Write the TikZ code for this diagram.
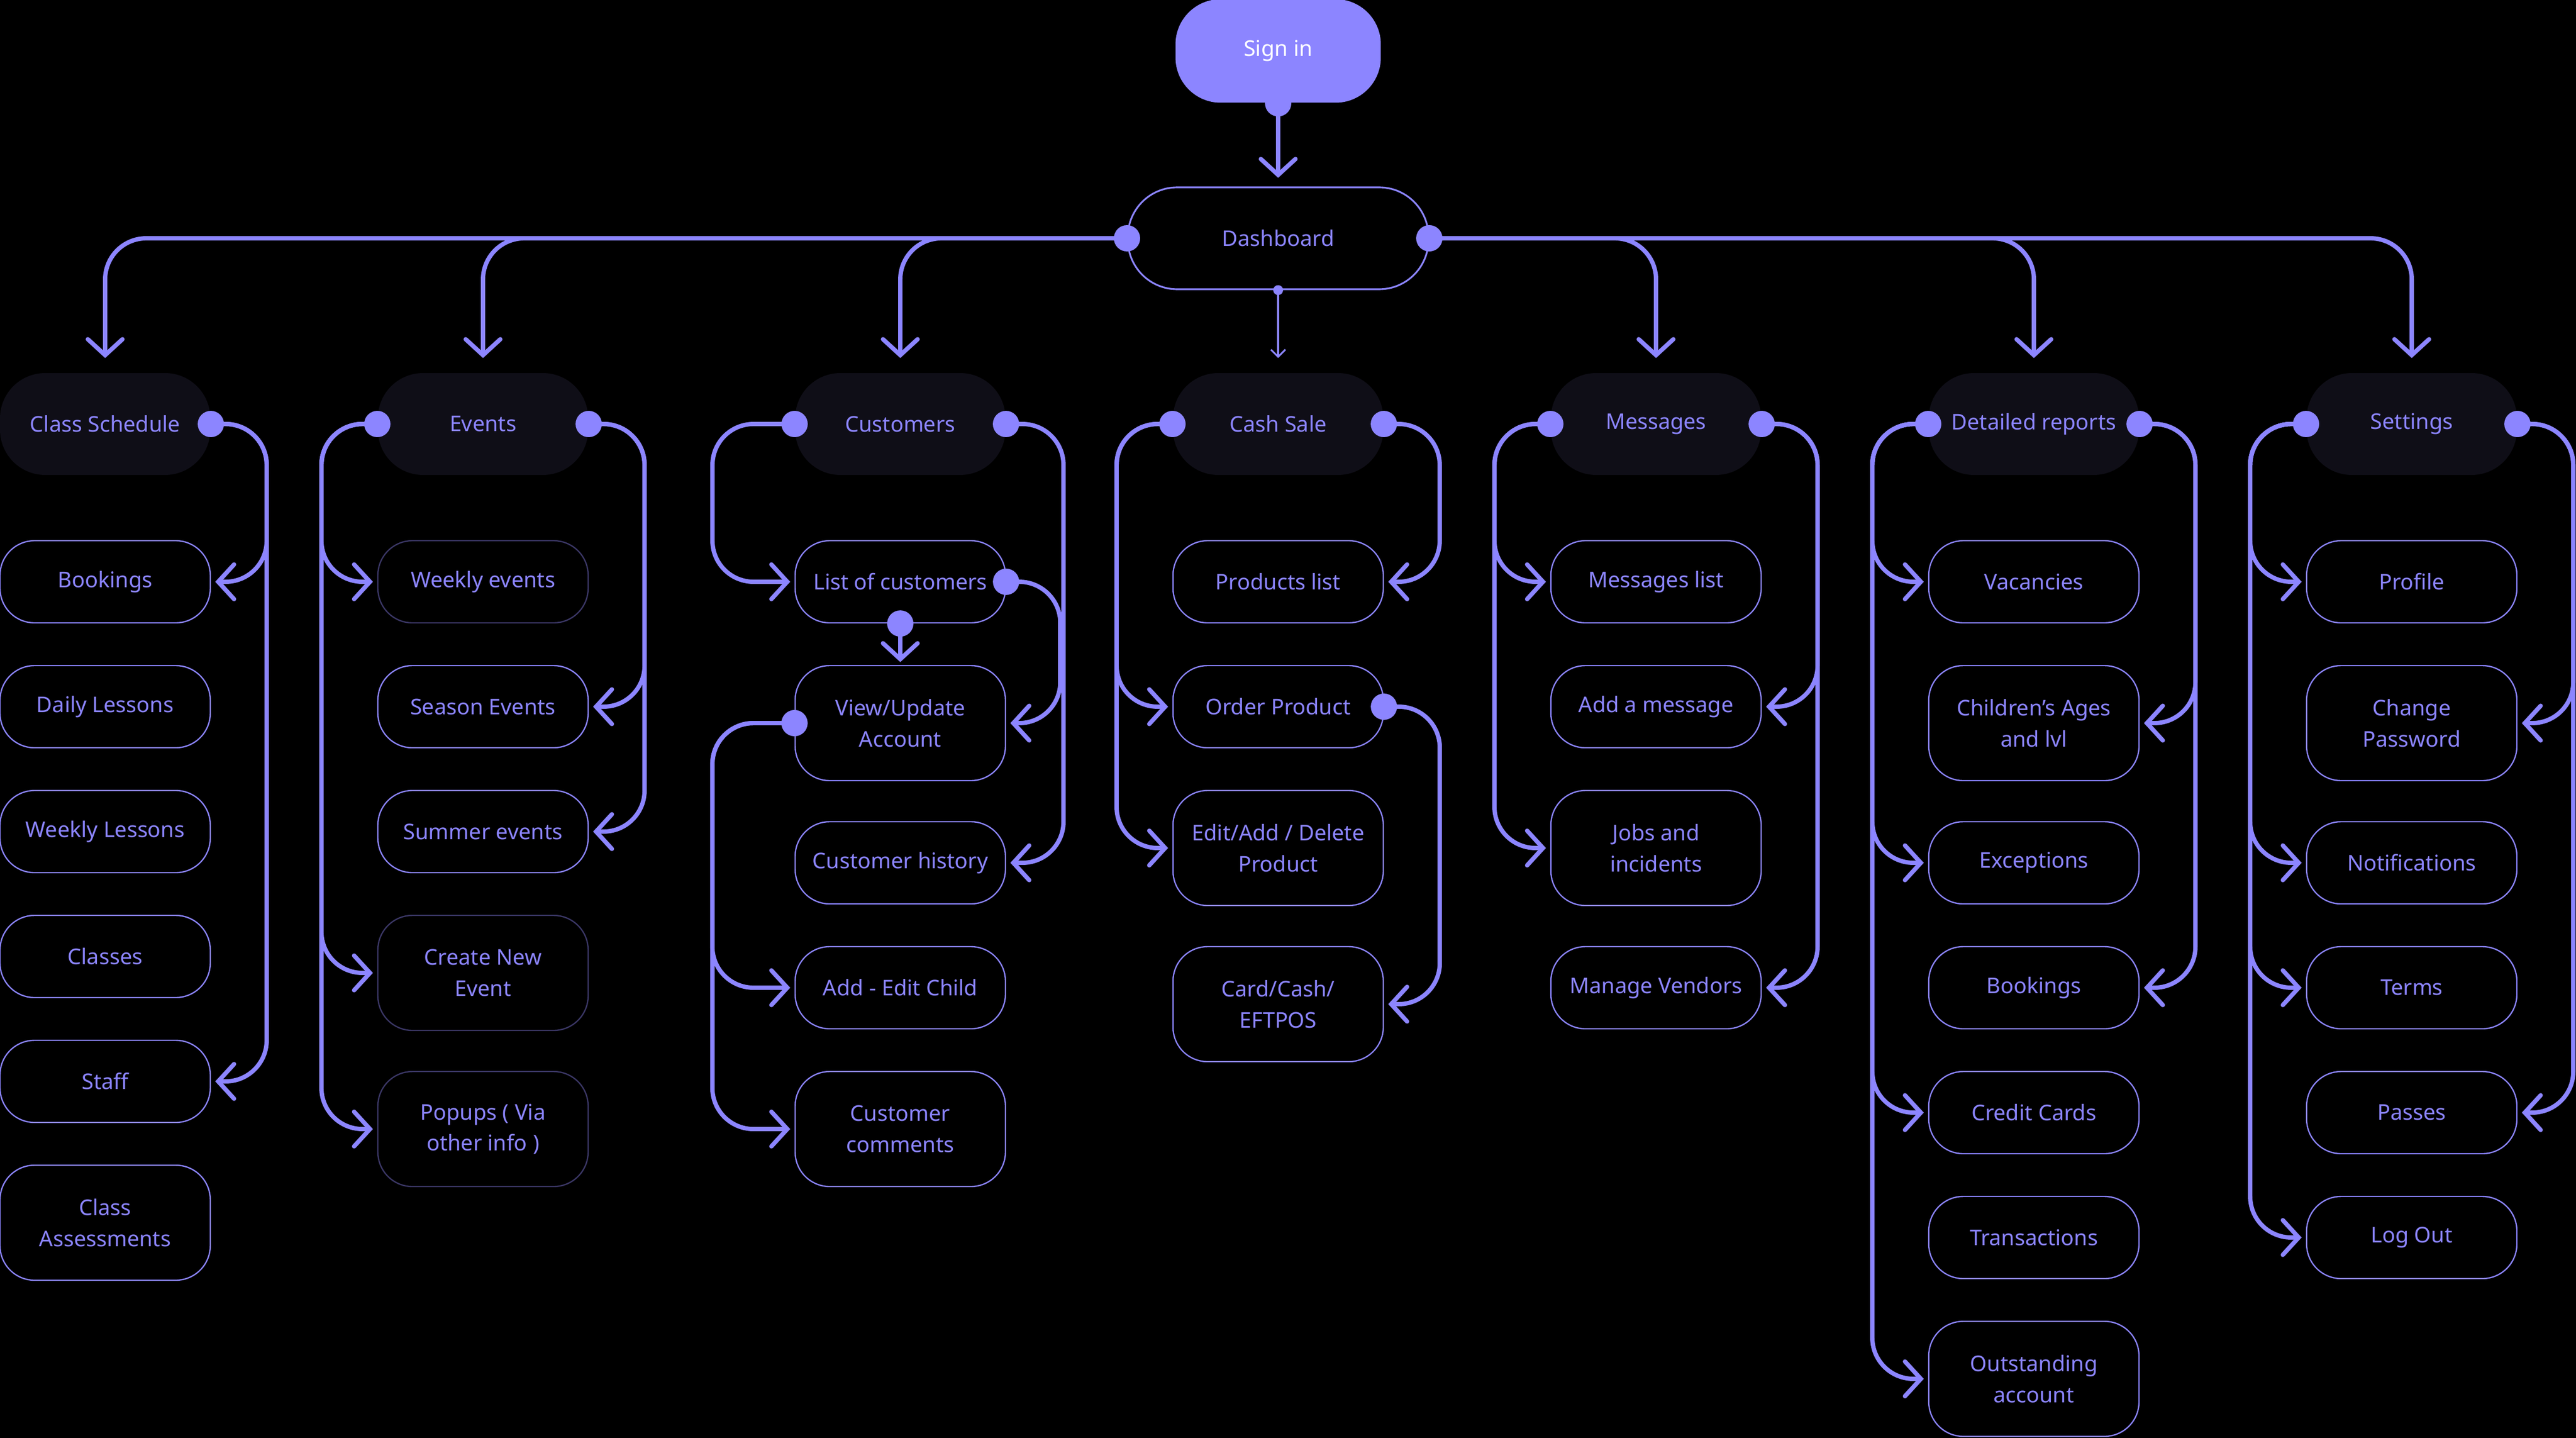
\documentclass[tikz,border=0pt]{standalone}
\usepackage{fontspec}
\setmainfont{Noto Sans}
\usetikzlibrary{arrows.meta}
\definecolor{pur}{HTML}{8C85FF}
\definecolor{hdrfill}{HTML}{0F0E17}
\definecolor{dim}{HTML}{3B3766}
\begin{document}
\begin{tikzpicture}[x=0.02cm,y=-0.02cm,
  every node/.style={font=\fontsize{7.5}{10.8}\selectfont, text=pur, align=center, inner sep=0pt},
  hdr/.style={fill=hdrfill, rounded corners=0.55cm, minimum width=2.56cm, minimum height=1.24cm},
  ch/.style={draw=pur, line width=0.45pt, rounded corners=0.42cm, minimum width=2.56cm, minimum height=1.0cm},
  ch2/.style={ch, minimum height=1.4cm},
  dimd/.style={draw=dim},
  conn/.style={draw=pur, line width=1.5pt, rounded corners=0.5cm, -{Straight Barb[length=5.5pt,width=12pt,line cap=round]}, shorten >=1.5pt},
  dot/.style={fill=pur}
]
\fill[black] (0,0) rectangle (1568,875);
\useasboundingbox (0,0) rectangle (1568,875);

% top
\node[fill=pur, rounded corners=0.55cm, minimum width=2.5cm, minimum height=1.26cm, text=white] (si) at (778,31) {Sign in};
\node[draw=pur, line width=0.6pt, rounded corners=0.6cm, minimum width=3.66cm, minimum height=1.24cm] (dash) at (778,145) {Dashboard};

% headers
\node[hdr] (cs) at (64,258) {Class Schedule};
\node[hdr] (ev) at (294,258) {Events};
\node[hdr] (cu) at (548,258) {Customers};
\node[hdr] (ca) at (778,258) {Cash Sale};
\node[hdr] (me) at (1008,258) {Messages};
\node[hdr] (dr) at (1238,258) {Detailed reports};
\node[hdr] (se) at (1468,258) {Settings};

% class schedule
\node[ch] (c1) at (64,354) {Bookings};
\node[ch] (c2) at (64,430) {Daily Lessons};
\node[ch] (c3) at (64,506) {Weekly Lessons};
\node[ch] (c4) at (64,582) {Classes};
\node[ch] (c5) at (64,658) {Staff};
\node[ch2] (c6) at (64,744) {Class\\Assessments};
% events
\node[ch,dimd] (e1) at (294,354) {Weekly events};
\node[ch] (e2) at (294,430) {Season Events};
\node[ch] (e3) at (294,506) {Summer events};
\node[ch2,dimd] (e4) at (294,592) {Create New\\Event};
\node[ch2,dimd] (e5) at (294,687) {Popups ( Via\\other info )};
% customers
\node[ch] (u1) at (548,354) {List of customers};
\node[ch2] (u2) at (548,440) {View/Update\\Account};
\node[ch] (u3) at (548,525) {Customer history};
\node[ch] (u4) at (548,601) {Add - Edit Child};
\node[ch2] (u5) at (548,687) {Customer\\comments};
% cash sale
\node[ch] (a1) at (778,354) {Products list};
\node[ch] (a2) at (778,430) {Order Product};
\node[ch2] (a3) at (778,516) {Edit/Add / Delete\\Product};
\node[ch2] (a4) at (778,611) {Card/Cash/\\EFTPOS};
% messages
\node[ch] (m1) at (1008,354) {Messages list};
\node[ch] (m2) at (1008,430) {Add a message};
\node[ch2] (m3) at (1008,516) {Jobs and\\incidents};
\node[ch] (m4) at (1008,601) {Manage Vendors};
% detailed reports
\node[ch] (d1) at (1238,354) {Vacancies};
\node[ch2] (d2) at (1238,440) {Children's Ages\\and lvl};
\node[ch] (d3) at (1238,525) {Exceptions};
\node[ch] (d4) at (1238,601) {Bookings};
\node[ch] (d5) at (1238,677) {Credit Cards};
\node[ch] (d6) at (1238,753) {Transactions};
\node[ch2] (d7) at (1238,839) {Outstanding\\account};
% settings
\node[ch] (s1) at (1468,354) {Profile};
\node[ch2] (s2) at (1468,440) {Change\\Password};
\node[ch] (s3) at (1468,525) {Notifications};
\node[ch] (s4) at (1468,601) {Terms};
\node[ch] (s5) at (1468,677) {Passes};
\node[ch] (s6) at (1468,753) {Log Out};

% top connectors
\draw[conn, shorten >=3pt] (si.south) -- (dash.north);
\foreach \h in {cs,ev,cu} \draw[conn, shorten >=5pt] (dash.west) -| (\h.north);
\foreach \h in {me,dr,se} \draw[conn, shorten >=5pt] (dash.east) -| (\h.north);
\draw[pur, line width=0.6pt, -{Straight Barb[length=2.5pt,width=5pt]}, shorten >=5pt] (dash.south) -- (ca.north);
\fill[dot] (dash.south) circle[radius=0.06cm];

% class schedule
\foreach \t in {c1,c5} \draw[conn] (cs.east) -- ++(34,0) |- (\t.east);
% events
\foreach \t in {e1,e4,e5} \draw[conn] (ev.west) -- ++(-34,0) |- (\t.west);
\foreach \t in {e2,e3} \draw[conn] (ev.east) -- ++(34,0) |- (\t.east);
% customers
\draw[conn] (cu.west) -- ++(-50,0) |- (u1.west);
\foreach \t in {u4,u5} \draw[conn] (u2.west) -- ++(-50,0) |- (\t.west);
\draw[conn] (cu.east) -- ++(35,0) |- (u3.east);
\draw[conn] (u1.east) -- ++(33,0) |- (u2.east);
\draw[conn, shorten >=1pt] (u1.south) -- (u2.north);
% cash
\foreach \t in {a2,a3} \draw[conn] (ca.west) -- ++(-34,0) |- (\t.west);
\draw[conn] (ca.east) -- ++(34,0) |- (a1.east);
\draw[conn] (a2.east) -- ++(34,0) |- (a4.east);
% messages
\foreach \t in {m1,m3} \draw[conn] (me.west) -- ++(-34,0) |- (\t.west);
\foreach \t in {m2,m4} \draw[conn] (me.east) -- ++(34,0) |- (\t.east);
% detailed
\foreach \t in {d1,d3,d5,d7} \draw[conn] (dr.west) -- ++(-34,0) |- (\t.west);
\foreach \t in {d2,d4} \draw[conn] (dr.east) -- ++(34,0) |- (\t.east);
% settings
\foreach \t in {s1,s3,s4,s6} \draw[conn] (se.west) -- ++(-34,0) |- (\t.west);
\foreach \t in {s2,s5} \draw[conn] (se.east) -- ++(34,0) |- (\t.east);

% dots
\foreach \p in {si.south,dash.west,dash.east,cs.east,ev.west,ev.east,cu.west,cu.east,ca.west,ca.east,me.west,me.east,dr.west,dr.east,se.west,se.east,u1.east,u1.south,u2.west,a2.east}
  \fill[dot] (\p) circle[radius=0.16cm];
\end{tikzpicture}
\end{document}
